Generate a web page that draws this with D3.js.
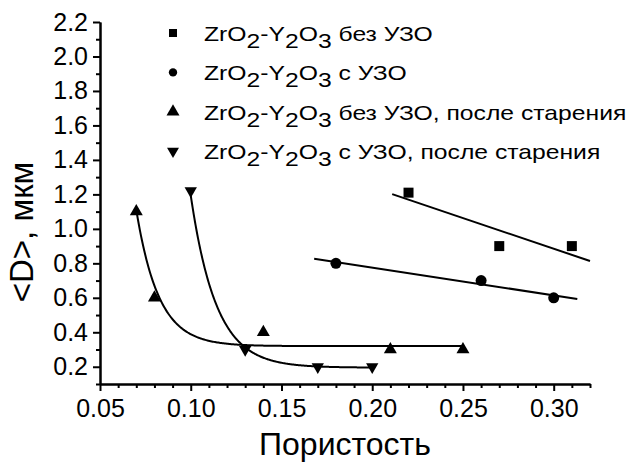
<!DOCTYPE html>
<html>
<head>
<meta charset="utf-8">
<script src="https://cdn.jsdelivr.net/npm/d3@7"></script>
<style>
  html, body { margin: 0; padding: 0; background: #fff; }
  svg { display: block; }
  text { font-family: "Liberation Sans", Arial, sans-serif; fill: #000; white-space: pre; }
</style>
</head>
<body>
<svg id="chart" width="630" height="463"></svg>
<script>
// Mean grain size <D> versus porosity
const sqX = [0.22, 0.27, 0.31];             // ZrO2-Y2O3 без УЗО
const sqY = [1.21, 0.90, 0.90];
const circX = [0.18, 0.26, 0.30];           // ZrO2-Y2O3 с УЗО
const circY = [0.80, 0.70, 0.60];
const upX = [0.07, 0.08, 0.14, 0.21, 0.25]; // без УЗО, после старения
const upY = [1.10, 0.60, 0.40, 0.30, 0.30];
const downX = [0.10, 0.13, 0.17, 0.20];     // с УЗО, после старения
const downY = [1.22, 0.30, 0.20, 0.20];

// Fit ranges (porosity) and exponential decay parameters [y0, A, x0, t]
const sqFitRange = [0.211, 0.320];
const circFitRange = [0.168, 0.313];
const upFitRange = [0.0702, 0.25];
const downFitRange = [0.10, 0.20];
const upExpFit = [0.32, 0.79, 0.07, 0.0123];
const downExpFit = [0.195, 1.0, 0.10, 0.014];

const xMajorTicks = [0.05, 0.10, 0.15, 0.20, 0.25, 0.30];
const yMajorTicks = [0.2, 0.4, 0.6, 0.8, 1.0, 1.2, 1.4, 1.6, 1.8, 2.0, 2.2];
const xTitle = "Пористость";
const yTitle = "<D>, мкм";
const legendSuffixes = ["без УЗО", "с УЗО", "без УЗО, после старения", "с УЗО, после старения"];

const svg = d3.select("#chart");
const x = d3.scaleLinear().domain([0.05, 0.32]).range([100, 590]);
const y = d3.scaleLinear().domain([0.1, 2.2]).range([384, 22]);

// minor ticks
const xMinor = d3.range(5, 33).map(v => v / 100).filter(v => !xMajorTicks.some(m => Math.abs(m - v) < 1e-9));
const yMinor = d3.range(1, 22, 2).map(v => v / 10);

const gx = svg.append("g").attr("transform", `translate(0,${y.range()[0]})`);
gx.call(d3.axisBottom(x).tickValues(xMajorTicks).tickFormat(d3.format(".2f")).tickSize(7).tickPadding(9).tickSizeOuter(0));
gx.append("g").call(d3.axisBottom(x).tickValues(xMinor).tickFormat("").tickSize(4).tickSizeOuter(0));

const gy = svg.append("g").attr("transform", `translate(${x.range()[0]},0)`);
gy.call(d3.axisLeft(y).tickValues(yMajorTicks).tickFormat(d3.format(".1f")).tickSize(7).tickPadding(5).tickSizeOuter(0));
gy.append("g").call(d3.axisLeft(y).tickValues(yMinor).tickFormat("").tickSize(4).tickSizeOuter(0));

svg.selectAll(".domain").attr("stroke", "#000").attr("stroke-width", 2);
svg.selectAll(".tick line").attr("stroke", "#000").attr("stroke-width", 2);
svg.selectAll(".tick text").style("font-size", "25px").attr("fill", "#000");
gx.selectAll(".tick text").attr("dy", "0.68em");

// axis titles
svg.append("text")
  .attr("x", (x.range()[0] + x.range()[1]) / 2)
  .attr("y", 455)
  .attr("text-anchor", "middle")
  .style("font-size", "32px")
  .text(xTitle);

svg.append("text")
  .attr("transform", "translate(33,232) rotate(-90)")
  .attr("text-anchor", "middle")
  .style("font-size", "33px")
  .text(yTitle);

// fits
function linFit(xs, ys) {
  const mx = d3.mean(xs), my = d3.mean(ys);
  const sxy = d3.sum(xs, (v, i) => (v - mx) * (ys[i] - my));
  const sxx = d3.sum(xs, v => (v - mx) * (v - mx));
  const b = sxy / sxx;
  return v => my + b * (v - mx);
}
function expFit(p) {
  return v => p[0] + p[1] * Math.exp(-(v - p[2]) / p[3]);
}
function sample(range, n) {
  return d3.range(n + 1).map(i => range[0] + (range[1] - range[0]) * i / n);
}
const line = d3.line().x(d => x(d[0])).y(d => y(d[1])).curve(d3.curveLinear);
const fits = [
  [sqFitRange, linFit(sqX, sqY), 1],
  [circFitRange, linFit(circX, circY), 1],
  [upFitRange, expFit(upExpFit), 300],
  [downFitRange, expFit(downExpFit), 300]
];
svg.append("g").selectAll("path")
  .data(fits)
  .join("path")
  .attr("d", f => line(sample(f[0], f[2]).map(v => [v, f[1](v)])))
  .attr("fill", "none")
  .attr("stroke", "#000")
  .attr("stroke-width", 2);

// markers
const series = [
  { xs: sqX, ys: sqY, type: d3.symbolSquare, size: 100, rot: 0, lsize: 64 },
  { xs: circX, ys: circY, type: d3.symbolCircle, size: 95, rot: 0, lsize: 55 },
  { xs: upX, ys: upY, type: d3.symbolTriangle, size: 73, rot: 0, lsize: 73 },
  { xs: downX, ys: downY, type: d3.symbolTriangle, size: 66, rot: 180, lsize: 62 }
];
series.forEach(s => {
  svg.append("g").selectAll("path")
    .data(s.xs.map((v, i) => [v, s.ys[i]]))
    .join("path")
    .attr("d", d3.symbol().type(s.type).size(s.size))
    .attr("transform", d => `translate(${x(d[0])},${y(d[1])}) rotate(${s.rot})`)
    .attr("fill", "#000");
});

// legend
const legend = svg.append("g");
const rowY = i => 33 + i * 39.4;
series.forEach((s, i) => {
  legend.append("path")
    .attr("d", d3.symbol().type(s.type).size(s.lsize))
    .attr("transform", `translate(173,${rowY(i)}) rotate(${s.rot})`)
    .attr("fill", "#000");
  const t = legend.append("text")
    .attr("transform", `translate(204,${rowY(i) + 8}) scale(1.235,1)`)
    .style("font-size", "20px");
  const parts = [["ZrO", 0], ["2", 7], ["-Y", -7], ["2", 7], ["O", -7], ["3", 7], [" " + legendSuffixes[i], -7]];
  parts.forEach(p => t.append("tspan").attr("dy", p[1]).text(p[0]));
});
</script>
</body>
</html>
